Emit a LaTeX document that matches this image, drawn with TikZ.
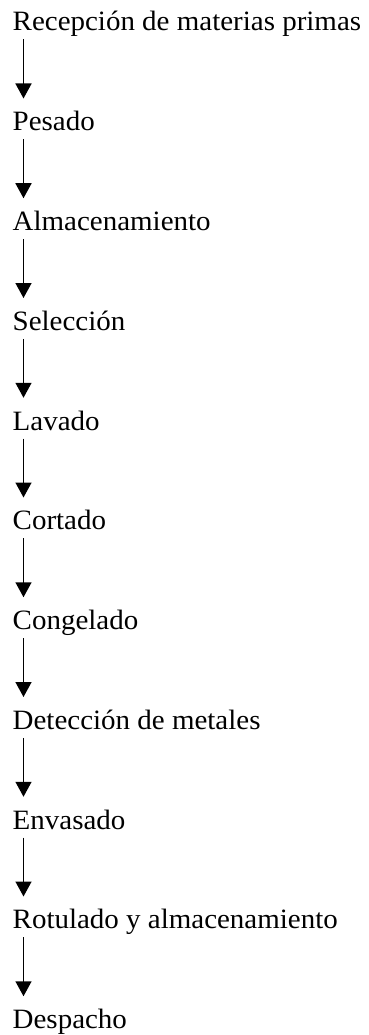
\documentclass[tikz,border=0pt]{standalone}
\usepackage{fontspec}
\setmainfont{Liberation Serif}[FakeStretch=1.035]
\usetikzlibrary{arrows.meta,calc}
\begin{document}
\begin{tikzpicture}[x=1pt,y=1pt,
  stepnode/.style={anchor=base west,inner sep=0pt,font=\fontsize{28}{34}\selectfont},
  flowarrow/.style={line width=1.5pt,-{Triangle[width=16pt,length=15pt]}}]
\useasboundingbox (0,0) rectangle (368,-1035);
\foreach \i/\t in {0/Recepción de materias primas,1/Pesado,2/Almacenamiento,3/Selección,4/Lavado,5/Cortado,6/Congelado,7/Detección de metales,8/Envasado,9/Rotulado y almacenamiento,10/Despacho}{
  \node[stepnode] (n\i) at (12.5,{-(31+99.75*\i)}) {\t};
}
\foreach \i [evaluate=\i as \j using int(\i+1)] in {0,...,9}{
  \draw[flowarrow] ($(n\i.base west)+(11,-8.5)$) -- ($(n\j.base west)+(11,32.25)$);
}
\end{tikzpicture}
\end{document}
